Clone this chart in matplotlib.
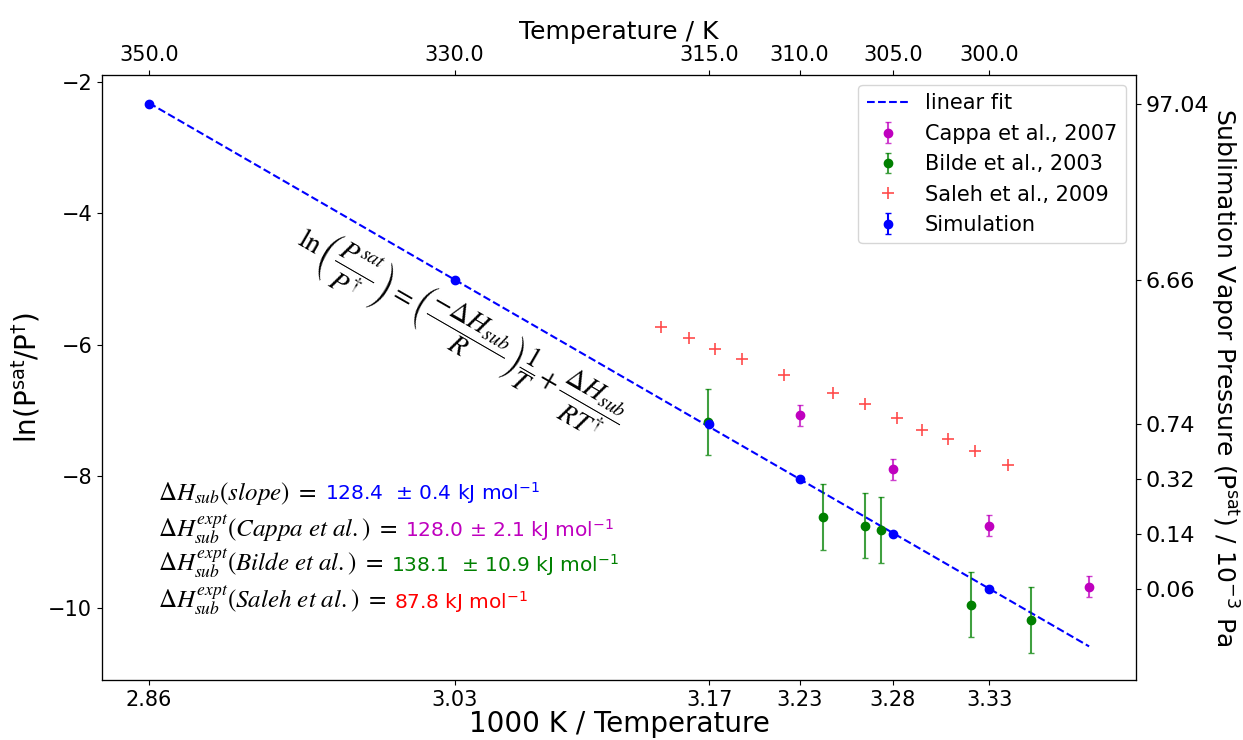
import numpy as np
import matplotlib.pyplot as plt

# simulation: temperatures (K) and sublimation vapour pressure (1e-3 Pa)
sim_T = [350, 330, 315, 310, 305, 300]
sim_p = [97.04, 6.66, 0.74, 0.32, 0.14, 0.06]
sim_err = [0.02, 0.02, 0.02, 0.02, 0.02, 0.02]

# Cappa et al., 2007
cappa_T = [310, 305, 300, 295]
cappa_y = [-7.07, -7.89, -8.75, -9.68]
cappa_err = [0.16, 0.16, 0.16, 0.16]

# Bilde et al., 2003 (x = 1000/T)
bilde_x = [3.174, 3.239, 3.263, 3.272, 3.323, 3.357]
bilde_y = [-7.18, -8.62, -8.75, -8.82, -9.95, -10.18]
bilde_err = [0.5, 0.5, 0.5, 0.5, 0.5, 0.5]

# Saleh et al., 2009 (x = 1000/T)
saleh_x = [3.147, 3.163, 3.178, 3.193, 3.217, 3.245, 3.263, 3.281, 3.295, 3.310, 3.325, 3.344]
saleh_y = [-5.73, -5.89, -6.06, -6.21, -6.46, -6.74, -6.90, -7.11, -7.30, -7.44, -7.61, -7.83]

dh_black = [r"$\Delta H_{sub}(slope)\ =$",
            r"$\Delta H_{sub}^{expt}(Cappa\ et\ al.)\ =$",
            r"$\Delta H_{sub}^{expt}(Bilde\ et\ al.)\ =$",
            r"$\Delta H_{sub}^{expt}(Saleh\ et\ al.)\ =$"]
dh_value = ["128.4  \u00b1 0.4 kJ mol$^{-1}$",
            "128.0 \u00b1 2.1 kJ mol$^{-1}$",
            "138.1  \u00b1 10.9 kJ mol$^{-1}$",
            "87.8 kJ mol$^{-1}$"]
dh_color = ['b', 'm', 'g', 'r']
dh_ypos = [-8.36, -8.92, -9.45, -10.01]

sim_x = 1000.0 / np.array(sim_T)
sim_y = np.log(np.array(sim_p) * 1e-3)
cappa_x = 1000.0 / np.array(cappa_T)

coef = np.polyfit(sim_x, sim_y, 1)
fit_x = np.linspace(sim_x.min(), cappa_x.max(), 50)
fit_y = np.polyval(coef, fit_x)

fig, ax = plt.subplots(figsize=(12.43, 7.40), dpi=100)
fig.subplots_adjust(left=0.082, right=0.914, top=0.899, bottom=0.081)

h_fit, = ax.plot(fit_x, fit_y, 'b--', lw=1.5, label='linear fit')
h_cappa = ax.errorbar(cappa_x, cappa_y, yerr=cappa_err, fmt='o', color='m', ms=6,
                      capsize=2, elinewidth=1.5, label='Cappa et al., 2007')
for a in list(h_cappa[1]) + list(h_cappa[2]):
    a.set_alpha(0.75)
h_bilde = ax.errorbar(bilde_x, bilde_y, yerr=bilde_err, fmt='o', color='g', ms=6,
                      capsize=2, elinewidth=1.5, label='Bilde et al., 2003')
for a in list(h_bilde[1]) + list(h_bilde[2]):
    a.set_alpha(0.75)
h_saleh, = ax.plot(saleh_x, saleh_y, '+', color='r', alpha=0.7, ms=8, mew=1.2,
                   label='Saleh et al., 2009')
h_sim = ax.errorbar(sim_x, sim_y, yerr=sim_err, fmt='o', color='b', ms=6,
                    capsize=2, label='Simulation')

ax.set_xticks(sim_x)
ax.set_xticklabels([f"{v:.2f}" for v in sim_x])
ax.tick_params(labelsize=15)
ax.set_xlabel('1000 K / Temperature', fontsize=20, labelpad=0)
ax.set_ylabel(r'ln(P$^{\mathrm{sat}}$/P$^{\dagger}$)', fontsize=20)
hs = [h_fit, h_cappa, h_bilde, h_saleh, h_sim]
ax.legend(hs, [h.get_label() for h in hs], loc='upper right', fontsize=15)

eq = (r"$\ln\left(\dfrac{P^{sat}}{P^{\dagger}}\right) = "
      r"\left(\dfrac{-\Delta H_{sub}}{R}\right)\dfrac{1}{T} + "
      r"\dfrac{\Delta H_{sub}}{RT^{\dagger}}$")
ax.text(3.033, -5.80, eq, rotation=-30, ha='center', va='center',
        rotation_mode='anchor', fontsize=20, math_fontfamily='stix')

ax2 = ax.twiny()
ax2.set_xlim(ax.get_xlim())
ax2.set_xticks(sim_x)
ax2.set_xticklabels([f"{t:.1f}" for t in sim_T])
ax2.tick_params(labelsize=15)
ax2.set_xlabel('Temperature / K', fontsize=18)

ax3 = ax.twinx()
ax3.set_ylim(ax.get_ylim())
ax3.set_yticks(sim_y)
ax3.set_yticklabels([f"{p:.2f}" for p in sim_p])
ax3.tick_params(labelsize=16)
ax3.set_ylabel(r'Sublimation Vapor Pressure (P$^{\mathrm{sat}}$) / 10$^{-3}$ Pa',
               fontsize=18, rotation=270, labelpad=22)

x0 = 2.8622
blacks = []
for s, y in zip(dh_black, dh_ypos):
    blacks.append(ax.text(x0, y, s, fontsize=18, va='baseline',
                          math_fontfamily='stix'))
fig.canvas.draw()
r = fig.canvas.get_renderer()
for t, s, c, y in zip(blacks, dh_value, dh_color, dh_ypos):
    bb = t.get_window_extent(renderer=r)
    xe = ax.transData.inverted().transform((bb.x1 + 8, 0))[0]
    ax.text(xe, y, s, fontsize=14.5, color=c, va='baseline')

fig.savefig('out.png', dpi=100)
